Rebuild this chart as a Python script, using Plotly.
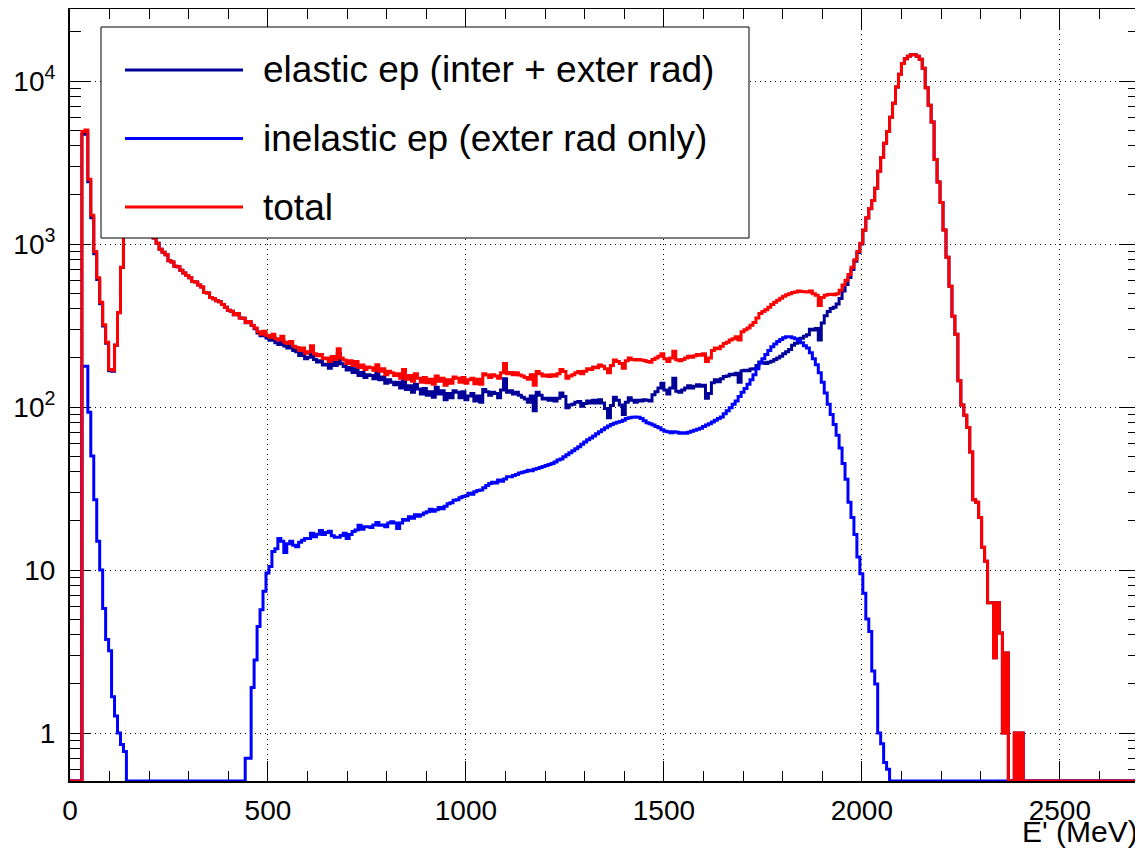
import numpy as np
import plotly.graph_objects as go

# ---------------- data (histograms, 7.5 MeV bins from 0 to 2700 MeV) ----------------
bin_lo = 0.0
bin_hi = 2700.0
bin_width = 7.5

total = [
    0, 0, 0, 0, 4900, 5000, 2500, 1500, 900, 620,
    440, 320, 250, 170, 168, 240, 380, 720, 1300, 1600,
    1680, 1720, 1650, 1560, 1470, 1380, 1290, 1190, 1090, 1010,
    930, 890, 860, 790, 775, 730, 725, 690, 665, 640,
    620, 590, 585, 560, 545, 505, 500, 470, 462, 448,
    442, 425, 410, 392, 387, 368, 375, 352, 350, 330,
    335, 318, 305, 290, 280, 292, 275, 268, 280, 262,
    258, 272, 250, 245, 252, 236, 232, 222, 230, 214,
    218, 238, 212, 206, 210, 198, 200, 190, 204, 196,
    228, 200, 194, 185, 192, 180, 190, 175, 181, 170,
    176, 174, 168, 182, 166, 172, 158, 166, 162, 156,
    160, 150, 170, 148, 156, 144, 160, 150, 142, 152,
    141, 148, 138, 155, 144, 150, 136, 147, 140, 153,
    150, 142, 152, 140, 147, 150, 139, 148, 138, 160,
    157, 152, 158, 155, 150, 162, 185, 160, 163, 158,
    162, 157, 155, 152, 148, 158, 136, 165, 160, 155,
    157, 154, 158, 155, 160, 170, 165, 150, 155, 158,
    162, 165, 160, 166, 172, 170, 176, 174, 181, 178,
    172, 162, 180, 194, 190, 185, 173, 192, 200, 196,
    194, 196, 194, 193, 190, 188, 196, 200, 205, 212,
    198, 190, 200, 220, 195, 192, 196, 200, 205, 202,
    206, 210, 208, 212, 190, 200, 222, 230, 228, 236,
    245, 250, 258, 262, 270, 258, 290, 298, 305, 318,
    330, 352, 375, 385, 395, 410, 425, 440, 452, 465,
    478, 488, 495, 505, 508, 515, 512, 510, 508, 515,
    495, 485, 420, 470, 485, 490, 492, 488, 495, 520,
    560, 600, 650, 720, 800, 900, 1010, 1220, 1450, 1650,
    1850, 2200, 2800, 3400, 4150, 4900, 6000, 7300, 9200, 11000,
    12800, 13700, 14200, 14500, 14500, 14200, 13600, 12000, 9100, 7100,
    5600, 3300, 2400, 1800, 1220, 830, 550, 360, 280, 145,
    103, 89, 75, 53, 27, 26, 21, 13.8, 11.3, 6.3,
    6.3, 2.9, 6.3, 4.1, 1.0, 3.1, 0, 0, 1.0, 0,
    1.0, 0, 0, 0, 0, 0, 0, 0, 0, 0,
    0, 0, 0, 0, 0, 0, 0, 0, 0, 0,
    0, 0, 0, 0, 0, 0, 0, 0, 0, 0,
    0, 0, 0, 0, 0, 0, 0, 0, 0, 0,
]

inelastic = [
    0, 0, 0, 0, 178, 178, 93, 50, 27, 15,
    10, 5.8, 3.75, 3.2, 1.67, 1.27, 1.0, 0.85, 0.77, 0,
    0, 0, 0, 0, 0, 0, 0, 0, 0, 0,
    0, 0, 0, 0, 0, 0, 0, 0, 0, 0,
    0, 0, 0, 0, 0, 0, 0, 0, 0, 0,
    0, 0, 0, 0, 0, 0, 0, 0, 0, 0.70,
    0.70, 1.9, 2.8, 4.5, 5.7, 7.4, 9.6, 10.5, 13.0, 13.5,
    15.6, 15.0, 12.8, 14.5, 15.0, 14.2, 13.9, 14.8, 15.2, 15.6,
    15.6, 16.8, 16.0, 16.6, 17.5, 16.5, 17.0, 17.3, 16.2, 15.9,
    15.9, 16.3, 16.8, 15.6, 16.5, 17.2, 17.6, 18.8, 17.8, 18.4,
    18.4, 18.2, 18.9, 19.6, 18.8, 18.9, 18.4, 19.4, 19.8, 19.4,
    18.0, 19.4, 20.4, 20.2, 21.2, 20.8, 21.8, 21.4, 21.8, 22.4,
    22.8, 23.6, 22.9, 23.4, 24.2, 23.8, 24.6, 25.5, 25.9, 26.8,
    27.0, 27.8, 28.2, 28.6, 29.6, 29.2, 30.2, 30.8, 31.0, 32.0,
    33.0, 34.0, 34.6, 34.2, 35.7, 35.0, 36.2, 37.3, 37.3, 38.0,
    38.6, 39.4, 39.8, 40.2, 41.0, 40.6, 41.5, 42.0, 42.5, 43.2,
    43.8, 44.4, 45.0, 46.0, 47.3, 48.0, 49.5, 51.0, 52.5, 54.0,
    55.5, 57.0, 59.0, 61.0, 63.0, 64.5, 66.5, 68.5, 70.5, 72.5,
    74.5, 76.5, 78.0, 79.5, 80.5, 81.6, 83.0, 85.0, 86.0, 86.5,
    87.0, 86.5, 85.0, 82.5, 80.0, 79.0, 77.5, 76.0, 74.5, 72.5,
    71.0, 70.5, 69.5, 70.5, 70.0, 69.0, 69.5, 69.0, 70.0, 71.0,
    72.0, 73.0, 74.0, 76.0, 77.5, 79.0, 81.0, 83.0, 85.0, 87.0,
    91, 95, 99, 104, 109, 116, 123, 130, 138, 147,
    158, 172, 186, 198, 210, 222, 234, 244, 252, 260,
    266, 270, 270, 266, 262, 256, 248, 238, 230, 215,
    198, 182, 162, 142, 122, 104, 90, 78, 67, 56,
    45, 36, 26, 21, 16.5, 12.0, 9.5, 7.2, 5.0, 4.2,
    2.4, 2.0, 1.0, 0.86, 0.66, 0.60, 0, 0, 0, 0,
    0, 0, 0, 0, 0, 0, 0, 0, 0, 0,
    0, 0, 0, 0, 0, 0, 0, 0, 0, 0,
    0, 0, 0, 0, 0, 0, 0, 0, 0, 0,
    0, 0, 0, 0, 0, 0, 0, 0, 0, 0,
    0, 0, 0, 0, 0, 0, 0, 0, 0, 0,
    0, 0, 0, 0, 0, 0, 0, 0, 0, 0,
    0, 0, 0, 0, 0, 0, 0, 0, 0, 0,
    0, 0, 0, 0, 0, 0, 0, 0, 0, 0,
]

elastic = [
    0, 0, 0, 0, 4720, 4820, 2410, 1450, 873, 605,
    430, 314, 246, 167, 166, 239, 379, 719, 1299, 1600,
    1680, 1720, 1650, 1560, 1470, 1380, 1290, 1190, 1090, 1010,
    930, 890, 860, 790, 775, 730, 725, 690, 665, 640,
    620, 590, 585, 560, 545, 505, 500, 470, 462, 448,
    442, 425, 410, 392, 387, 368, 375, 352, 350, 329,
    334, 316, 302, 285, 274, 285, 265, 257, 267, 248,
    242, 257, 237, 230, 237, 222, 218, 207, 215, 198,
    202, 221, 196, 189, 192, 181, 183, 173, 188, 180,
    212, 184, 177, 169, 175, 163, 172, 156, 163, 152,
    158, 156, 149, 162, 147, 153, 140, 147, 142, 137,
    142, 131, 150, 128, 135, 123, 138, 129, 120, 130,
    118, 124, 115, 132, 120, 126, 111, 121, 114, 126,
    123, 114, 124, 111, 117, 121, 109, 117, 107, 128,
    124, 118, 123, 121, 114, 127, 149, 123, 126, 120,
    123, 118, 115, 112, 107, 117, 95, 123, 118, 112,
    113, 110, 113, 109, 113, 122, 116, 99, 103, 104,
    107, 108, 101, 105, 109, 106, 110, 106, 111, 106,
    98, 86, 102, 115, 110, 103, 90, 107, 114, 110,
    107, 110, 109, 111, 110, 109, 119, 124, 131, 140,
    127, 120, 131, 150, 125, 123, 127, 131, 135, 131,
    134, 137, 134, 136, 113, 121, 141, 147, 143, 149,
    154, 155, 159, 158, 161, 142, 167, 168, 167, 171,
    172, 180, 189, 187, 185, 188, 191, 196, 200, 205,
    212, 218, 225, 239, 246, 259, 264, 272, 278, 300,
    297, 303, 258, 328, 363, 386, 402, 410, 428, 464,
    515, 564, 624, 699, 784, 888, 1000, 1213, 1445, 1646,
    1848, 2198, 2799, 3399, 4149, 4899, 6000, 7300, 9200, 11000,
    12800, 13700, 14200, 14500, 14500, 14200, 13600, 12000, 9100, 7100,
    5600, 3300, 2400, 1800, 1220, 830, 550, 360, 280, 145,
    103, 89, 75, 53, 27, 26, 21, 13.8, 11.3, 6.3,
    6.3, 2.9, 6.3, 4.1, 1.0, 3.1, 0, 0, 1.0, 0,
    1.0, 0, 0, 0, 0, 0, 0, 0, 0, 0,
    0, 0, 0, 0, 0, 0, 0, 0, 0, 0,
    0, 0, 0, 0, 0, 0, 0, 0, 0, 0,
    0, 0, 0, 0, 0, 0, 0, 0, 0, 0,
]

series_names = ["elastic ep (inter + exter rad)", "inelastic ep (exter rad only)", "total"]
series_colors = ["#000099", "#0000ff", "#ff0000"]

x_tick_vals = [0, 500, 1000, 1500, 2000, 2500]
x_tick_text = ["0", "500", "1000", "1500", "2000", "2500"]
y_tick_vals = [1, 10, 100, 1000, 10000]
y_tick_text = ["1", "10", "10<sup>2</sup>", "10<sup>3</sup>", "10<sup>4</sup>"]
x_title = "E' (MeV)"

# ---------------- figure geometry ----------------
# the page body has an 8px margin, so the figure is sized/offset to compensate
OFF = 8
W, H = 1143 - OFF, 849 - OFF
plot_left, plot_right, plot_top, plot_bottom = 70, 1139, 9, 781   # page pixels
L = plot_left - OFF
T = plot_top - OFF
R = W - (plot_right - OFF)
B = H - (plot_bottom - OFF)
pw = W - L - R
ph = H - T - B

y_lo, y_hi = -0.2945, 4.442
y_floor = 10 ** y_lo

def px_x(p):
    return (p - OFF - L) / pw

def px_y(p):
    return (H - B - (p - OFF)) / ph

edges = np.linspace(bin_lo, bin_hi, len(total) + 1)
FONT = "Liberation Sans, Arial, Helvetica, sans-serif"

fig = go.Figure()
for name, vals, col in zip(series_names, [elastic, inelastic, total], series_colors):
    yv = [v if v > 0 else y_floor for v in vals]
    yv = yv + [yv[-1]]
    fig.add_trace(go.Scatter(
        x=edges, y=yv, mode="lines", name=name, showlegend=False,
        line=dict(color=col, width=3, shape="hv"), hoverinfo="skip"))

fig.update_xaxes(
    range=[bin_lo, bin_hi], tickmode="array", tickvals=x_tick_vals, ticktext=x_tick_text,
    ticks="inside", ticklen=20, tickwidth=1, tickcolor="black",
    showline=True, linecolor="black", linewidth=2, mirror="allticks",
    showgrid=True, gridcolor="black", gridwidth=1, griddash="1px,4px",
    minor=dict(ticks="inside", ticklen=10, tickwidth=1, tickcolor="black", dtick=100, tick0=0, showgrid=False),
    tickfont=dict(family=FONT, size=28, color="black"), zeroline=False, layer="below traces",
    automargin=False, ticklabelstandoff=3,
)
fig.update_yaxes(
    type="log", range=[y_lo, y_hi], tickmode="array", tickvals=y_tick_vals, ticktext=y_tick_text,
    ticks="inside", ticklen=20, tickwidth=1, tickcolor="black",
    showline=True, linecolor="black", linewidth=2, mirror="allticks",
    showgrid=True, gridcolor="black", gridwidth=1, griddash="1px,4px",
    minor=dict(ticks="inside", ticklen=11, tickwidth=1, tickcolor="black", dtick="D1", showgrid=False),
    tickfont=dict(family=FONT, size=28, color="black"), zeroline=False, layer="below traces",
    ticklabelstandoff=7, automargin=False,
)

shapes = [dict(type="rect", xref="paper", yref="paper",
               x0=px_x(101), x1=px_x(749), y0=px_y(238), y1=px_y(27),
               line=dict(color="black", width=1), fillcolor="white", layer="above")]
annotations = []
for i, (name, col) in enumerate(zip(series_names, series_colors)):
    yc = px_y(70 + i * 68.5)
    shapes.append(dict(type="line", xref="paper", yref="paper",
                       x0=px_x(125), x1=px_x(243), y0=yc, y1=yc,
                       line=dict(color=col, width=3), layer="above"))
    annotations.append(dict(text=name, xref="paper", yref="paper", x=px_x(261), y=yc,
                            xanchor="left", yanchor="middle", showarrow=False,
                            font=dict(family=FONT, size=37, color="black")))

annotations.append(dict(text=x_title, xref="paper", yref="paper", x=px_x(1139), y=px_y(831),
                        xanchor="right", yanchor="middle", showarrow=False, borderpad=0,
                        font=dict(family=FONT, size=30, color="black")))

fig.update_layout(
    width=W, height=H, margin=dict(l=L, r=R, t=T, b=B, pad=0),
    paper_bgcolor="white", plot_bgcolor="white",
    shapes=shapes, annotations=annotations, showlegend=False,
    font=dict(family=FONT, color="black"),
)

fig.write_html("out.html")
